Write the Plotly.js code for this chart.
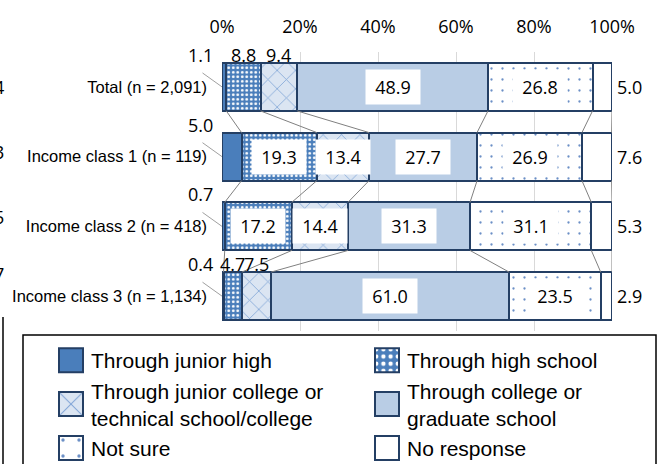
<!DOCTYPE html>
<html>
<head>
<meta charset="utf-8">
<script src="https://cdn.plot.ly/plotly-3.0.1.min.js"></script>
<style>
  html, body { margin: 0; padding: 0; background: #ffffff; }
  #chart { width: 658px; height: 464px; }
</style>
</head>
<body>
<div id="chart"></div>
<script>
// Educational attainment expected for children, by household income class (%)
const categories = ['Total (n = 2,091)', 'Income class 1 (n = 119)', 'Income class 2 (n = 418)', 'Income class 3 (n = 1,134)'];
const seriesNames = [
  'Through junior high',
  'Through high school',
  'Through junior college or<br>technical school/college',
  'Through college or<br>graduate school',
  'Not sure',
  'No response'
];
const juniorHigh    = [1.1, 5.0, 0.7, 0.4];
const highSchool    = [8.8, 19.3, 17.2, 4.7];
const juniorCollege = [9.4, 13.4, 14.4, 7.5];
const college       = [48.9, 27.7, 31.3, 61.0];
const notSure       = [26.8, 26.9, 31.1, 23.5];
const noResponse    = [5.0, 7.6, 5.3, 2.9];
const tickValues = [0, 20, 40, 60, 80, 100];
const tickLabels = ['0%', '20%', '40%', '60%', '80%', '100%'];
// trailing digits of the neighbouring panel, cut by the left edge
const edgeDigits = ['4', '3', '5', '7'];

const series = [juniorHigh, highSchool, juniorCollege, college, notSure, noResponse];

// ---- styling ----
const W = 658, H = 464;
const M = { l: 222, r: 46, t: 52, b: 133 };
const plotW = W - M.l - M.r, plotH = H - M.t - M.b;
const pxX = px => (px - M.l) / plotW;        // page pixel -> paper x
const pxY = py => (H - M.b - py) / plotH;    // page pixel -> paper y

const BAR_W = 0.69;
const OUTLINE = '#243f64';
const NUM_FONT = { family: '"Open Sans", "DejaVu Sans", sans-serif', size: 18, color: '#000000' };
const LABEL_FONT = { family: '"Liberation Sans", Arial, sans-serif', size: 16.5, color: '#000000' };
const LEGEND_FONT = { family: '"Liberation Sans", Arial, sans-serif', size: 21, color: '#000000' };

const styles = [
  { color: '#4a7ebb' },
  { color: '#4a7ebb', pattern: { shape: '.', bgcolor: '#4a7ebb', fgcolor: '#ffffff', size: 4.5, solidity: 0.3 } },
  { color: '#dbe5f2', pattern: { shape: 'x', bgcolor: '#dbe5f2', fgcolor: '#7fa4d6', size: 13, solidity: 0.12 } },
  { color: '#b9cde5' },
  { color: '#ffffff', pattern: { shape: '.', bgcolor: '#ffffff', fgcolor: '#6b8fc6', size: 11, solidity: 0.035 } },
  { color: '#ffffff' }
];

const yPos = categories.map((_, i) => i);

const traces = [];

// series lines joining segment boundaries of neighbouring bars
const cum = categories.map((_, i) => {
  let s = 0;
  return series.map(v => (s += v[i]));
});
const lx = [], ly = [];
for (let k = 0; k < series.length; k++) {
  for (let i = 0; i < categories.length - 1; i++) {
    lx.push(cum[i][k], cum[i + 1][k], null);
    ly.push(i + BAR_W / 2, i + 1 - BAR_W / 2, null);
  }
}
traces.push({
  type: 'scatter', mode: 'lines', x: lx, y: ly,
  line: { color: '#808080', width: 1 },
  showlegend: false, hoverinfo: 'skip'
});

// two legend columns: left holds even-indexed series, right the odd ones
series.forEach((vals, k) => {
  const st = styles[k];
  const marker = { color: st.color, line: { color: OUTLINE, width: 2 } };
  if (st.pattern) marker.pattern = Object.assign({ fillmode: 'replace' }, st.pattern);
  traces.push({
    type: 'bar', orientation: 'h', name: seriesNames[k],
    legend: k % 2 === 0 ? 'legend' : 'legend2',
    x: vals, y: yPos, width: BAR_W, marker: marker,
    cliponaxis: false, hoverinfo: 'x+name'
  });
});

// value labels
const annotations = [];
categories.forEach((_, i) => {
  let start = 0;
  series.forEach((vals, k) => {
    const v = vals[i];
    const txt = v.toFixed(1);
    const mid = start + v / 2;
    if (k === 0) {
      annotations.push({ x: 0, y: i - BAR_W / 2, xref: 'x', yref: 'y', text: txt,
        xanchor: 'right', yanchor: 'middle', xshift: -8, yshift: 8,
        showarrow: false, font: NUM_FONT, borderpad: 0 });
      // leader line to the thin first segment
      annotations.push({ x: 0, y: i, xref: 'x', yref: 'y', text: '',
        showarrow: true, arrowhead: 0, ax: -21, ay: -15,
        arrowcolor: '#a0a0a0', arrowwidth: 1 });
    } else if (k === series.length - 1) {
      annotations.push({ x: start + v, y: i, xref: 'x', yref: 'y', text: txt,
        xanchor: 'left', yanchor: 'middle', xshift: 4,
        showarrow: false, font: NUM_FONT, borderpad: 0 });
    } else if (v < 10) {
      annotations.push({ x: mid, y: i - BAR_W / 2, xref: 'x', yref: 'y', text: txt,
        xanchor: 'center', yanchor: 'middle', yshift: 8,
        showarrow: false, font: NUM_FONT, borderpad: 0 });
    } else {
      annotations.push({ x: mid, y: i, xref: 'x', yref: 'y', text: txt,
        xanchor: 'center', yanchor: 'middle',
        width: 44, height: 24, borderpad: 5, bgcolor: '#ffffff',
        showarrow: false, font: NUM_FONT });
    }
    start += v;
  });
});

// digits of the adjoining panel at the left edge
const edgeY = [87, 152, 217, 274];
edgeDigits.forEach((d, i) => {
  annotations.push({ xref: 'paper', yref: 'paper', x: pxX(5), y: pxY(edgeY[i]),
    xanchor: 'right', yanchor: 'middle', text: d, showarrow: false,
    font: NUM_FONT, borderpad: 0 });
});

const legendBase = {
  orientation: 'v', traceorder: 'normal',
  xanchor: 'left', yanchor: 'top', xref: 'paper', yref: 'paper',
  bgcolor: 'rgba(0,0,0,0)', borderwidth: 0,
  font: LEGEND_FONT, valign: 'middle'
};

const layout = {
  width: W, height: H,
  margin: Object.assign({ pad: 0, autoexpand: false }, M),
  paper_bgcolor: '#ffffff', plot_bgcolor: '#ffffff',
  barmode: 'stack', bargap: 0,
  showlegend: true,
  xaxis: {
    side: 'top', range: [0, 100], tickvals: tickValues, ticktext: tickLabels,
    ticks: '', showline: false, zeroline: false,
    showgrid: true, gridcolor: '#d9d9d9', gridwidth: 1,
    tickfont: NUM_FONT, ticklabelstandoff: 14, fixedrange: true
  },
  yaxis: {
    range: [3.5, -0.5], tickvals: yPos, ticktext: categories,
    ticks: '', showline: false, zeroline: false, showgrid: false,
    tickfont: LABEL_FONT, ticklabelstandoff: 14, fixedrange: true
  },
  legend: Object.assign({}, legendBase, { x: pxX(51), y: pxY(340) }),
  legend2: Object.assign({}, legendBase, { x: pxX(367), y: pxY(340) }),
  shapes: [
    // legend frame (runs past the bottom edge)
    { type: 'rect', xref: 'paper', yref: 'paper',
      x0: pxX(23), x1: pxX(656), y0: pxY(335), y1: pxY(475),
      line: { color: '#000000', width: 1.5 }, fillcolor: 'rgba(0,0,0,0)' },
    // frame edge of the adjoining panel
    { type: 'line', xref: 'paper', yref: 'paper',
      x0: pxX(3), x1: pxX(3), y0: pxY(317), y1: pxY(475),
      line: { color: '#000000', width: 1.5 } }
  ],
  annotations: annotations
};

function enlargeSwatches(gd) {
  gd.querySelectorAll('g.legendpoints path').forEach(p => {
    if (p.dataset.big) return;
    const t = p.getAttribute('transform') || '';
    p.setAttribute('transform', (t + ' scale(2)').trim());
    p.style.vectorEffect = 'non-scaling-stroke';
    p.dataset.big = '1';
  });
}

Plotly.newPlot('chart', traces, layout, { displayModeBar: false, staticPlot: true }).then(gd => {
  enlargeSwatches(gd);
  requestAnimationFrame(() => enlargeSwatches(gd));
});
</script>
</body>
</html>
